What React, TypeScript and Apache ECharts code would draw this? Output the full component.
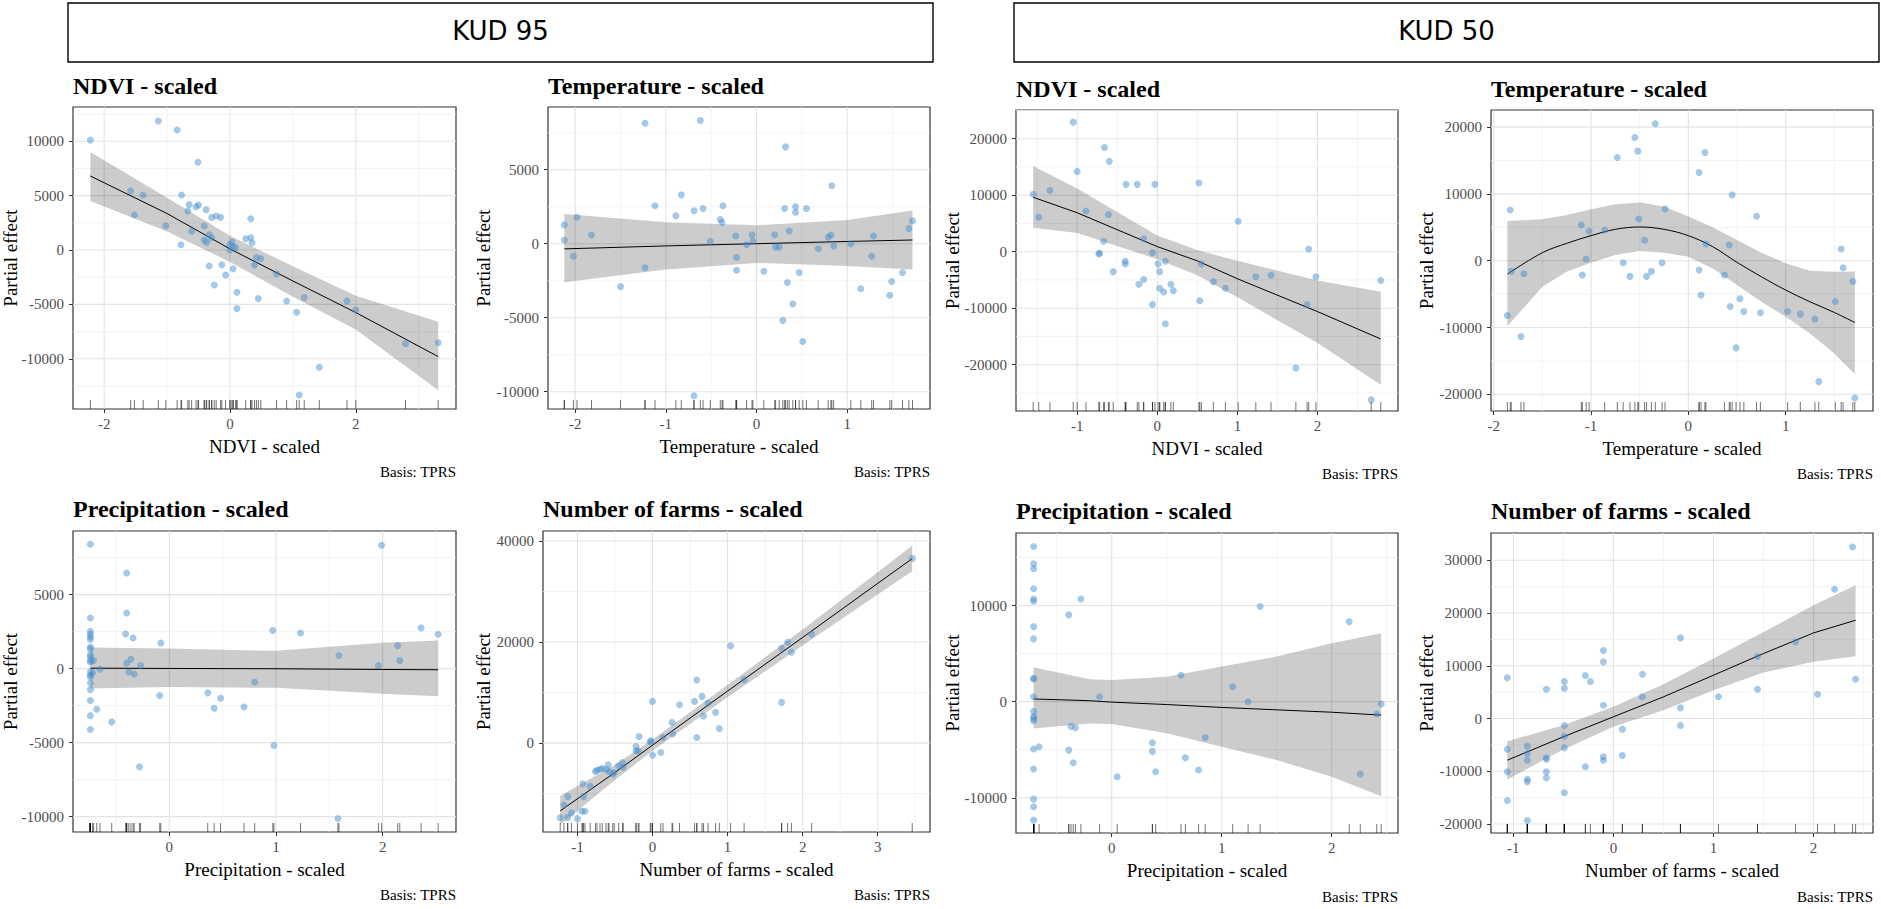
import React, { useEffect, useRef } from "react";
import * as echarts from "echarts";

const SERIF = '"Liberation Serif", "Times New Roman", serif';
const SANS = '"DejaVu Sans", sans-serif';

// ---------- header labels ----------
const headerLabels = ["KUD 95", "KUD 50"];
const panelTitles = [
  "NDVI - scaled", "Temperature - scaled", "NDVI - scaled", "Temperature - scaled",
  "Precipitation - scaled", "Number of farms - scaled", "Precipitation - scaled", "Number of farms - scaled",
];
const yAxisTitle = "Partial effect";
const basisLabel = "Basis: TPRS";

// ---------- KUD 95 : NDVI ----------
const k95NdviX = [-2.22,-1.14,-0.84,-0.51,-1.58,-1.38,-1.52,-1.02,-0.77,-0.65,-0.54,-0.50,-0.67,-0.38,-0.29,-0.22,-0.15,-0.61,-0.41,-0.33,-0.29,-0.41,-0.37,-0.78,0.03,0.00,0.05,0.00,0.09,0.33,0.25,0.33,0.35,0.42,0.49,0.39,-0.33,-0.13,0.05,-0.07,-0.25,0.74,0.11,0.11,0.45,0.90,1.18,1.06,1.86,2.00,1.42,1.10,2.79,3.31];
const k95NdviY = [10100,11850,11030,8060,5420,5050,3220,2200,5050,4170,3980,4130,3580,3710,3000,3120,3000,1720,2200,1410,1130,920,700,490,740,490,310,0,210,2880,1040,1130,670,-700,-800,-1380,-1470,-1350,-1720,-2300,-3220,-2180,-3890,-5390,-4470,-4690,-4380,-5730,-4690,-5510,-10780,-13320,-8610,-8520];
const k95NdviFitX = [-2.22,-1,0,1,2,3.31];
const k95NdviFit = [6800,3350,100,-2850,-5750,-9800];
const k95NdviHi = [9000,4800,1300,-1500,-4200,-6600];
const k95NdviLo = [4500,1700,-1100,-4300,-7300,-12900];
const k95NdviXTicks = [-2,0,2];
const k95NdviYTicks = [-10000,-5000,0,5000,10000];
const k95NdviXMinor = [-1,1,3];
const k95NdviYMinor = [-12500,-7500,-2500,2500,7500,12500];

// ---------- KUD 95 : Temperature ----------
const k95TempX = [-2.12,-2.12,-2.02,-1.98,-1.82,-1.50,-1.23,-1.23,-1.12,-0.89,-0.83,-0.69,-0.62,-0.59,-0.69,-0.51,-0.40,-0.38,-0.37,-0.23,-0.22,-0.22,-0.11,-0.05,-0.04,0.08,0.20,0.21,0.25,0.31,0.32,0.36,0.34,0.29,0.40,0.47,0.43,0.43,0.55,0.51,0.68,0.79,0.82,0.83,0.85,1.04,1.15,1.27,1.29,1.47,1.49,1.61,1.68,1.72];
const k95TempY = [1270,250,-840,1790,590,-2900,8140,-1630,2560,1880,3300,2220,8320,2380,-10270,160,1630,1430,2560,520,-930,-1790,-70,610,180,-1860,610,-230,-230,2380,6540,860,-2620,-5180,-4070,-1950,2490,2130,2380,-6610,-340,430,590,3910,-160,0,-3050,-840,520,-3480,-2560,-1950,1020,1540];
const k95TempFitX = [-2.12,-1,0,1,1.72];
const k95TempFit = [-350,-150,0,150,250];
const k95TempHi = [2000,1450,1250,1600,2250];
const k95TempLo = [-2600,-1750,-1300,-1500,-1750];
const k95TempXTicks = [-2,-1,0,1];
const k95TempYTicks = [-10000,-5000,0,5000];
const k95TempXMinor = [-1.5,-0.5,0.5,1.5];
const k95TempYMinor = [-7500,-2500,2500,7500];

// ---------- KUD 50 : NDVI ----------
const k50NdviX = [-1.05,-1.55,-1.48,-1.34,-1.00,-0.89,-0.66,-0.60,-0.61,-0.67,-0.73,-0.72,-0.55,-0.39,-0.25,-0.40,-0.40,-0.17,-0.23,-0.17,-0.06,-0.03,0.01,0.03,0.10,-0.06,0.03,0.08,0.17,0.20,0.10,0.52,0.55,0.53,0.70,0.85,1.01,1.23,1.42,1.73,1.89,1.87,1.98,2.67,2.79];
const k50NdviY = [22930,10180,6110,10840,14190,7190,18440,15990,6530,1860,-420,-240,-3530,11920,11920,-1680,-2160,2280,-5750,-4910,-180,11920,-2160,-3530,-1680,-9340,-6470,-7130,-5750,-6890,-12750,12160,-2160,-8680,-5330,-6470,5390,-4430,-4190,-20600,480,-9340,-4430,-26230,-5090];
const k50NdviFitX = [-1.55,-1,0,0.5,1,2,2.79];
const k50NdviFit = [9640,6890,900,-1620,-4790,-10600,-15450];
const k50NdviHi = [15150,11200,2870,300,-1620,-5090,-7070];
const k50NdviLo = [4250,3290,-1320,-4190,-8080,-16170,-23530];
const k50NdviXTicks = [-1,0,1,2];
const k50NdviYTicks = [-20000,-10000,0,10000,20000];
const k50NdviXMinor = [-1.5,-0.5,0.5,1.5,2.5];
const k50NdviYMinor = [-25000,-15000,-5000,5000,15000,25000];

// ---------- KUD 50 : Temperature ----------
const k50TempX = [-1.86,-1.83,-1.82,-1.69,-1.72,-1.10,-1.02,-1.09,-1.05,-0.86,-0.73,-0.67,-0.60,-0.55,-0.52,-0.51,-0.45,-0.43,-0.38,-0.34,-0.27,-0.24,0.11,0.11,0.13,0.17,0.18,0.37,0.42,0.43,0.45,0.49,0.53,0.57,0.70,0.74,1.02,1.15,1.30,1.34,1.51,1.57,1.59,1.69,1.71];
const k50TempY = [-8200,7600,-1600,-1950,-11350,5350,4400,-2150,250,4600,15450,-300,-2350,18450,16400,6250,3050,-2350,-1600,20500,-300,7750,13200,-1400,-5150,16200,2500,-2150,2350,-6850,9850,-13050,-5700,-7600,6650,-7800,-7600,-8000,-8750,-18100,-6100,1750,-1050,-3100,-20550];
const k50TempFitX = [-1.86,-1.5,-1.25,-1,-0.75,-0.5,-0.25,0,0.25,0.5,0.75,1,1.25,1.5,1.71];
const k50TempFit = [-2000,1200,2600,3750,4700,5050,4700,3750,2100,-250,-2400,-4400,-6150,-7750,-9250];
const k50TempHi = [5950,6200,6850,7700,8450,8700,8100,6600,5000,3100,1200,-400,-1500,-1650,-1600];
const k50TempLo = [-9800,-3900,-1650,-300,850,1450,1200,600,-1150,-3650,-6150,-8400,-10900,-13900,-17000];
const k50TempXTicks = [-2,-1,0,1];
const k50TempYTicks = [-20000,-10000,0,10000,20000];
const k50TempXMinor = [-1.5,-0.5,0.5,1.5];
const k50TempYMinor = [-15000,-5000,5000,15000];

// ---------- KUD 95 : Precipitation ----------
const k95PrecX = [-0.74,-0.74,-0.74,-0.74,-0.74,-0.74,-0.74,-0.74,-0.74,-0.74,-0.74,-0.74,-0.74,-0.74,-0.74,-0.74,-0.74,-0.74,-0.74,-0.74,-0.72,-0.71,-0.68,-0.65,-0.54,-0.40,-0.40,-0.41,-0.40,-0.36,-0.38,-0.34,-0.33,-0.28,-0.27,-0.08,-0.09,0.36,0.42,0.48,0.70,0.80,0.97,0.98,1.23,1.59,1.58,1.96,1.99,2.14,2.16,2.36,2.52];
const k95PrecY = [8400,3420,2520,2320,2140,1960,1460,1330,950,790,560,430,-230,-450,-560,-970,-1420,-2160,-3180,-4120,-290,540,-2750,-50,-3600,6460,3760,2340,360,630,-230,2070,-380,-6640,200,1730,-1820,-1640,-2680,-2000,-2590,-900,2570,-5200,2410,880,-10130,200,8330,1550,540,2750,2320];
const k95PrecFitX = [-0.74,0,1,2,2.52];
const k95PrecFit = [30,10,-10,-60,-80];
const k95PrecHi = [1420,1350,1200,1750,1900];
const k95PrecLo = [-1350,-1250,-1300,-1700,-1870];
const k95PrecXTicks = [0,1,2];
const k95PrecYTicks = [-10000,-5000,0,5000];
const k95PrecXMinor = [-0.5,0.5,1.5,2.5];
const k95PrecYMinor = [-7500,-2500,2500,7500];

// ---------- KUD 95 : Number of farms ----------
const k95FarmsX = [-1.23,-1.18,-1.13,-1.08,-1.13,-1.00,-0.93,-0.94,-0.90,-0.92,-0.83,-0.76,-0.74,-0.70,-0.67,-0.62,-0.59,-0.58,-0.53,-0.51,-0.45,-0.40,-0.39,-0.22,-0.22,-0.18,-0.19,-0.03,-0.02,0.00,0.00,0.11,0.14,0.26,0.27,0.36,0.56,0.59,0.59,0.66,0.68,0.74,0.84,0.89,1.04,1.22,1.72,1.72,1.80,1.85,2.12,3.46];
const k95FarmsY = [-14740,-12230,-10580,-13820,-14740,-14940,-8060,-13480,-13480,-10580,-8530,-5620,-5350,-5160,-5020,-5160,-4300,-5620,-6150,-5820,-4500,-3830,-4830,-660,-1520,1320,-1520,260,460,8260,-2380,-1850,1120,4100,1790,7600,8260,12490,1120,9250,5350,7930,6080,2910,19240,12560,18770,8060,19960,17980,21550,36550];
const k95FarmsFitX = [-1.23,-0.5,0,1,2,3,3.46];
const k95FarmsFit = [-13400,-5800,-400,10300,20900,31600,36500];
const k95FarmsHi = [-10400,-4300,700,11500,22500,33800,39100];
const k95FarmsLo = [-16200,-7300,-1500,9100,19300,29400,34000];
const k95FarmsXTicks = [-1,0,1,2,3];
const k95FarmsYTicks = [0,20000,40000];
const k95FarmsXMinor = [-0.5,0.5,1.5,2.5,3.5];
const k95FarmsYMinor = [-10000,10000,30000];

// ---------- KUD 50 : Precipitation ----------
const k50PrecX = [-0.71,-0.71,-0.71,-0.71,-0.71,-0.71,-0.71,-0.71,-0.71,-0.71,-0.71,-0.71,-0.71,-0.71,-0.71,-0.71,-0.71,-0.71,-0.71,-0.71,-0.66,-0.39,-0.28,-0.39,-0.37,-0.33,-0.35,-0.11,0.05,0.37,0.37,0.40,0.63,0.67,0.79,0.85,1.10,1.24,1.35,2.16,2.26,2.41,2.45];
const k50PrecY = [16150,14340,13820,11740,10690,10450,7810,6530,2430,2360,520,-1010,-1560,-1770,-1980,-4930,-7010,-10140,-10940,-12330,-4690,9030,10690,-5040,-2570,-2710,-6350,520,-7810,-4270,-5170,-7290,2740,-5830,-7120,-3750,1560,0,9900,8330,-7530,-1290,-240];
const k50PrecFitX = [-0.71,-0.2,0,0.5,1,1.5,2,2.45];
const k50PrecFit = [280,100,-50,-300,-600,-850,-1100,-1400];
const k50PrecHi = [3580,2330,2260,2600,3650,4690,6080,7120];
const k50PrecLo = [-2780,-2260,-2330,-3300,-4690,-6080,-7810,-9830];
const k50PrecXTicks = [0,1,2];
const k50PrecYTicks = [-10000,0,10000];
const k50PrecXMinor = [-0.5,0.5,1.5,2.5];
const k50PrecYMinor = [-5000,5000,15000];

// ---------- KUD 50 : Number of farms ----------
const k50FarmsX = [-1.06,-1.06,-1.06,-1.06,-0.86,-0.86,-0.86,-0.86,-0.86,-0.86,-0.67,-0.67,-0.67,-0.67,-0.67,-0.49,-0.49,-0.49,-0.49,-0.49,-0.49,-0.28,-0.23,-0.28,-0.10,-0.10,-0.10,-0.10,-0.10,0.09,0.09,0.29,0.29,0.67,0.67,0.67,1.05,1.44,1.44,1.82,2.04,2.21,2.39,2.42];
const k50FarmsY = [7710,-5810,-10110,-15540,-5240,-6630,-7900,-11500,-12000,-19330,5560,-7450,-7710,-10110,-11240,7010,5750,-1330,-3350,-5560,-14090,8150,7010,-9160,12890,10740,2530,-7260,-7900,-2020,-7010,8400,4110,15290,2020,-1330,4110,11750,5560,14530,4610,24510,32530,7450];
const k50FarmsFitX = [-1.06,-0.5,0,0.5,1,1.5,2,2.42];
const k50FarmsFit = [-7900,-3470,320,4100,8210,12320,16230,18630];
const k50FarmsHi = [-4300,-1260,2210,6500,11370,16420,21470,25260];
const k50FarmsLo = [-11560,-5870,-1580,1580,5370,8720,10740,11810];
const k50FarmsXTicks = [-1,0,1,2];
const k50FarmsYTicks = [-20000,-10000,0,10000,20000,30000];
const k50FarmsXMinor = [-0.5,0.5,1.5,2.5];
const k50FarmsYMinor = [-15000,-5000,5000,15000,25000];

// ---------- layout (pixels) ----------
const panelBoxes = [
  [73, 107, 383, 302], [548, 107, 382, 302], [1016, 110, 382, 301], [1491, 110, 382, 301],
  [73, 531, 383, 301], [543, 531, 387, 301], [1016, 533, 382, 300], [1491, 533, 382, 300],
];
const xRanges = [[-2.496, 3.593], [-2.30, 1.913], [-1.764, 3.005], [-2.028, 1.897], [-0.903, 2.687], [-1.459, 3.697], [-0.870, 2.603], [-1.223, 2.594]];
const yRanges = [[-14614, 13143], [-11169, 9236], [-28195, 25080], [-22500, 22560], [-11041, 9297], [-17581, 41967], [-13666, 17549], [-21705, 35170]];
const titleBaselines = [94.3, 94.3, 96.7, 96.7, 516.7, 516.7, 519.3, 519.3];
const basisBaselines = [477, 477, 479, 479, 900, 900, 901.7, 901.7];
const yNameCenters = [10.8, 483.5, 952.5, 1426.5, 10.8, 483.5, 952.5, 1426.5];
const lineSmooth = [0, 0, 0, 0.35, 0, 0, 0, 0];
const headerBoxes = [[68, 3, 865, 59], [1014, 3, 865, 59]];

const panels = [
  { px: k95NdviX, py: k95NdviY, fx: k95NdviFitX, fit: k95NdviFit, hi: k95NdviHi, lo: k95NdviLo, xt: k95NdviXTicks, yt: k95NdviYTicks, xm: k95NdviXMinor, ym: k95NdviYMinor },
  { px: k95TempX, py: k95TempY, fx: k95TempFitX, fit: k95TempFit, hi: k95TempHi, lo: k95TempLo, xt: k95TempXTicks, yt: k95TempYTicks, xm: k95TempXMinor, ym: k95TempYMinor },
  { px: k50NdviX, py: k50NdviY, fx: k50NdviFitX, fit: k50NdviFit, hi: k50NdviHi, lo: k50NdviLo, xt: k50NdviXTicks, yt: k50NdviYTicks, xm: k50NdviXMinor, ym: k50NdviYMinor },
  { px: k50TempX, py: k50TempY, fx: k50TempFitX, fit: k50TempFit, hi: k50TempHi, lo: k50TempLo, xt: k50TempXTicks, yt: k50TempYTicks, xm: k50TempXMinor, ym: k50TempYMinor },
  { px: k95PrecX, py: k95PrecY, fx: k95PrecFitX, fit: k95PrecFit, hi: k95PrecHi, lo: k95PrecLo, xt: k95PrecXTicks, yt: k95PrecYTicks, xm: k95PrecXMinor, ym: k95PrecYMinor },
  { px: k95FarmsX, py: k95FarmsY, fx: k95FarmsFitX, fit: k95FarmsFit, hi: k95FarmsHi, lo: k95FarmsLo, xt: k95FarmsXTicks, yt: k95FarmsYTicks, xm: k95FarmsXMinor, ym: k95FarmsYMinor },
  { px: k50PrecX, py: k50PrecY, fx: k50PrecFitX, fit: k50PrecFit, hi: k50PrecHi, lo: k50PrecLo, xt: k50PrecXTicks, yt: k50PrecYTicks, xm: k50PrecXMinor, ym: k50PrecYMinor },
  { px: k50FarmsX, py: k50FarmsY, fx: k50FarmsFitX, fit: k50FarmsFit, hi: k50FarmsHi, lo: k50FarmsLo, xt: k50FarmsXTicks, yt: k50FarmsYTicks, xm: k50FarmsXMinor, ym: k50FarmsYMinor },
];

function buildOption() {
  const grid: any[] = [];
  const xAxis: any[] = [];
  const yAxis: any[] = [];
  const series: any[] = [];
  const graphic: any[] = [];

  headerBoxes.forEach((b, i) => {
    graphic.push({ type: "rect", shape: { x: b[0], y: b[1], width: b[2], height: b[3] }, style: { fill: "#fff", stroke: "#000", lineWidth: 1.4 }, z: 1 });
    graphic.push({ type: "text", x: b[0] + b[2] / 2, y: 31, style: { text: headerLabels[i], fontFamily: SANS, fontSize: 26, fill: "#000", align: "center", verticalAlign: "middle" }, z: 2 });
  });

  panels.forEach((p, i) => {
    const [left, top, w, h] = panelBoxes[i];
    grid.push({ left, top, width: w, height: h, show: true, backgroundColor: "#fff", borderColor: "#333", borderWidth: 1.2, containLabel: false });
    const xTitle = panelTitles[i];
    xAxis.push({
      type: "value", gridIndex: i, min: xRanges[i][0], max: xRanges[i][1],
      axisLine: { show: false, onZero: false },
      axisTick: { show: true, customValues: p.xt, length: 4, lineStyle: { color: "#333", width: 1 } },
      axisLabel: { customValues: p.xt, formatter: (v: number) => String(v), fontFamily: SERIF, fontSize: 15, color: "#4d4d4d", margin: 7 },
      splitLine: { show: false },
    });
    yAxis.push({
      type: "value", gridIndex: i, min: yRanges[i][0], max: yRanges[i][1],
      axisLine: { show: false, onZero: false },
      axisTick: { show: true, customValues: p.yt, length: 4, lineStyle: { color: "#333", width: 1 } },
      axisLabel: { customValues: p.yt, formatter: (v: number) => String(v), fontFamily: SERIF, fontSize: 15, color: "#4d4d4d", margin: 9 },
      splitLine: { show: false },
    });

    // grid lines
    const gl: number[][] = [];
    p.xt.forEach((v) => gl.push([v, 0, 0]));
    p.xm.forEach((v) => gl.push([v, 0, 1]));
    p.yt.forEach((v) => gl.push([0, v, 2]));
    p.ym.forEach((v) => gl.push([0, v, 3]));
    series.push({
      type: "custom", xAxisIndex: i, yAxisIndex: i, z: 1, silent: true, clip: false,
      data: gl,
      renderItem: (params: any, api: any) => {
        const cs = params.coordSys;
        const kind = api.value(2);
        const c = api.coord([api.value(0), api.value(1)]);
        const major = kind === 0 || kind === 2;
        const style = { stroke: major ? "#e3e3e3" : "#f0f0f0", lineWidth: major ? 1.1 : 0.8 };
        if (kind < 2) {
          if (c[0] < cs.x || c[0] > cs.x + cs.width) return { type: "group", children: [] };
          return { type: "line", shape: { x1: c[0], y1: cs.y, x2: c[0], y2: cs.y + cs.height }, style };
        }
        if (c[1] < cs.y || c[1] > cs.y + cs.height) return { type: "group", children: [] };
        return { type: "line", shape: { x1: cs.x, y1: c[1], x2: cs.x + cs.width, y2: c[1] }, style };
      },
    });

    // confidence ribbon
    const band = p.fx.map((x, k) => [x, p.lo[k], p.hi[k]]);
    series.push({
      type: "custom", xAxisIndex: i, yAxisIndex: i, z: 2, silent: true,
      data: band,
      renderItem: (params: any, api: any) => {
        if (params.dataIndex !== 0) return { type: "group", children: [] };
        const pts: number[][] = [];
        for (let k = 0; k < band.length; k++) pts.push(api.coord([band[k][0], band[k][2]]));
        for (let k = band.length - 1; k >= 0; k--) pts.push(api.coord([band[k][0], band[k][1]]));
        return { type: "polygon", shape: { points: pts }, style: { fill: "rgba(0,0,0,0.2)" } };
      },
    });

    // fitted line
    series.push({
      type: "line", xAxisIndex: i, yAxisIndex: i, z: 3, silent: true, showSymbol: false, symbol: "none",
      smooth: lineSmooth[i],
      data: p.fx.map((x, k) => [x, p.fit[k]]),
      lineStyle: { color: "#000", width: 1 },
    });

    // partial residuals
    series.push({
      type: "scatter", xAxisIndex: i, yAxisIndex: i, z: 4, silent: true, symbolSize: 7,
      data: p.px.map((x, k) => [x, p.py[k]]),
      itemStyle: { color: "rgba(70,140,205,0.6)" },
    });

    // rug
    series.push({
      type: "custom", xAxisIndex: i, yAxisIndex: i, z: 5, silent: true, clip: false,
      data: p.px.map((x) => [x, 0]),
      renderItem: (params: any, api: any) => {
        const cs = params.coordSys;
        const c = api.coord([api.value(0), 0]);
        const b = cs.y + cs.height;
        return { type: "line", shape: { x1: c[0], y1: b, x2: c[0], y2: b - 9 }, style: { stroke: "rgba(0,0,0,0.55)", lineWidth: 1 } };
      },
    });

    // titles and labels
    graphic.push({ type: "text", x: left, y: titleBaselines[i] - 8.2, style: { text: panelTitles[i], fontFamily: SERIF, fontWeight: "bold", fontSize: 24, fill: "#000", align: "left", verticalAlign: "middle" } });
    graphic.push({ type: "text", x: left + w / 2, y: top + h + 37.7, style: { text: xTitle, fontFamily: SERIF, fontSize: 19, fill: "#000", align: "center", verticalAlign: "middle" } });
    graphic.push({ type: "text", x: yNameCenters[i], y: top + h / 2, rotation: Math.PI / 2, style: { text: yAxisTitle, fontFamily: SERIF, fontSize: 19, fill: "#000", align: "center", verticalAlign: "middle" } });
    graphic.push({ type: "text", x: left + w, y: basisBaselines[i] - 5, style: { text: basisLabel, fontFamily: SERIF, fontSize: 15, fill: "#000", align: "right", verticalAlign: "middle" } });
  });

  return { animation: false, backgroundColor: "#fff", grid, xAxis, yAxis, series, graphic };
}

export default function App() {
  const ref = useRef<HTMLDivElement>(null);
  useEffect(() => {
    if (!ref.current) return;
    const chart = echarts.init(ref.current, undefined, { renderer: "svg" });
    chart.setOption(buildOption() as any);
    return () => chart.dispose();
  }, []);
  return <div ref={ref} style={{ position: "absolute", left: 0, top: 0, width: 1881, height: 909 }} />;
}
